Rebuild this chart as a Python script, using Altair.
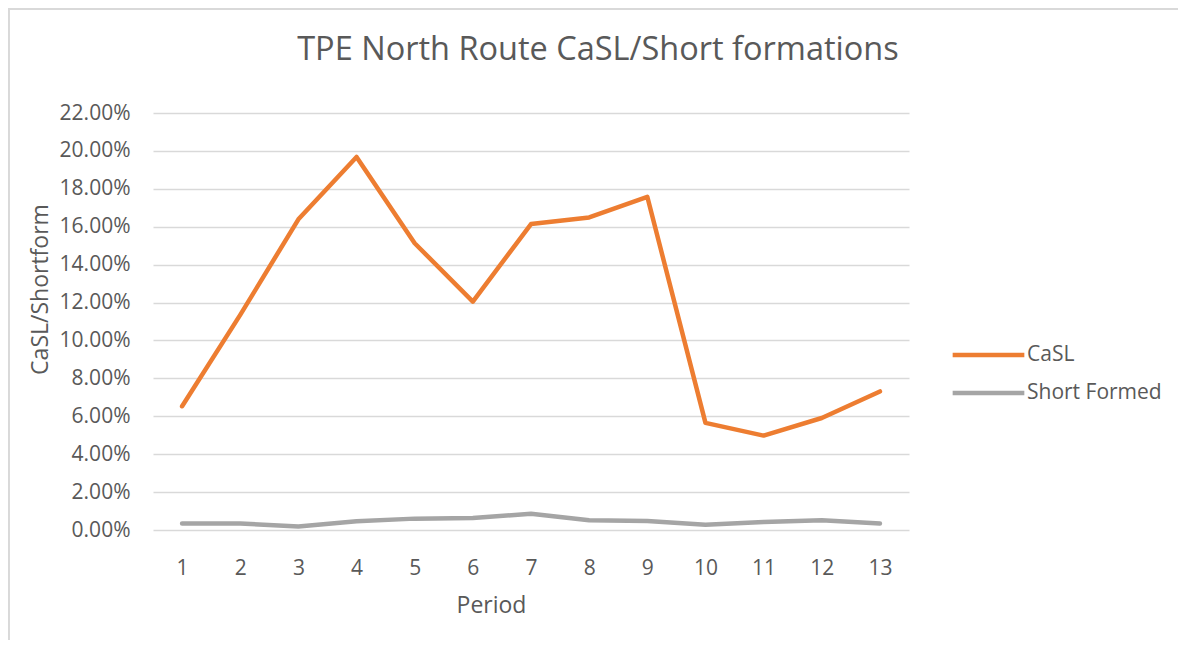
import altair as alt
import pandas as pd

periods = [str(i) for i in range(1, 14)]
casl = [0.0653, 0.1135, 0.1639, 0.1968, 0.1513, 0.1205, 0.1614, 0.1649, 0.1758,
        0.0565, 0.0498, 0.0591, 0.0731]
short_formed = [0.0034, 0.0034, 0.0019, 0.0046, 0.0060, 0.0063, 0.0086, 0.0051, 0.0047,
                0.0028, 0.0042, 0.0051, 0.0034]
series_names = ["CaSL", "Short Formed"]
series_colors = ["#ED7D31", "#A5A5A5"]
y_ticks = [i / 100 for i in range(0, 23, 2)]

rows = []
for p, v in zip(periods, casl):
    rows.append({"Period": p, "Value": v, "Series": series_names[0]})
for p, v in zip(periods, short_formed):
    rows.append({"Period": p, "Value": v, "Series": series_names[1]})
df = pd.DataFrame(rows)

FONT = "Open Sans"
GREY_TXT = "#595959"

W, H = 756, 417

lines = alt.Chart(df).mark_line(strokeWidth=4.5, strokeCap="round", strokeJoin="round").encode(
    x=alt.X("Period:O", sort=periods,
            axis=alt.Axis(title="Period", labelAngle=0, grid=False, domain=False, ticks=False,
                          tickSize=0, labelPadding=38, labelBaseline="middle",
                          labelFontSize=21, labelColor=GREY_TXT, labelFont=FONT,
                          titleFontSize=23, titleColor=GREY_TXT, titleFont=FONT,
                          titleFontWeight="normal", titleX=338, titleY=75,
                          titleBaseline="middle", titleAlign="center")),
    y=alt.Y("Value:Q", scale=alt.Scale(domain=[0, 0.22], nice=False),
            axis=alt.Axis(title="CaSL/Shortform", values=y_ticks, format=".2%",
                          domain=False, ticks=False, tickSize=0, labelPadding=23,
                          gridColor="#D9D9D9", gridWidth=1.3,
                          labelFontSize=21, labelColor=GREY_TXT, labelFont=FONT,
                          titleFontSize=23, titleColor=GREY_TXT, titleFont=FONT,
                          titleFontWeight="normal", titleX=-113, titleY=176,
                          titleBaseline="middle", titleAlign="center", titleAngle=-90)),
    color=alt.Color("Series:N", sort=series_names,
                    scale=alt.Scale(domain=series_names, range=series_colors),
                    legend=alt.Legend(title=None, orient="none", legendX=822.5, legendY=229,
                                      symbolType="M-3.36,0H3.36", symbolSize=455,
                                      symbolStrokeWidth=4.5, labelOffset=25.5,
                                      rowPadding=15, padding=0,
                                      labelFontSize=21, labelColor=GREY_TXT, labelFont=FONT)),
)

# outer chart-area frame (top and left edges; right/bottom fall outside the picture)
frame_top = alt.Chart(df).mark_rule(stroke="#D9D9D9", strokeWidth=1.5).encode(
    x=alt.value(-145), x2=alt.value(1030), y=alt.value(-104)
)
frame_left = alt.Chart(df).mark_rule(stroke="#D9D9D9", strokeWidth=1.5).encode(
    x=alt.value(-144.25), y=alt.value(-104), y2=alt.value(530)
)

chart = alt.layer(frame_top, frame_left, lines).properties(
    width=W, height=H,
    background="white",
    title=alt.TitleParams("TPE North Route CaSL/Short formations", font=FONT, fontSize=32.5,
                          fontWeight="normal", color=GREY_TXT, anchor="middle", dx=67,
                          frame="group", baseline="alphabetic", offset=-84),
    autosize=alt.AutoSizeParams(type="none"),
    padding={"left": 145, "top": 105, "right": 269, "bottom": 110},
).configure_view(stroke="transparent", strokeWidth=0)

chart.save("out.html", embed_options={"renderer": "svg", "actions": False})
